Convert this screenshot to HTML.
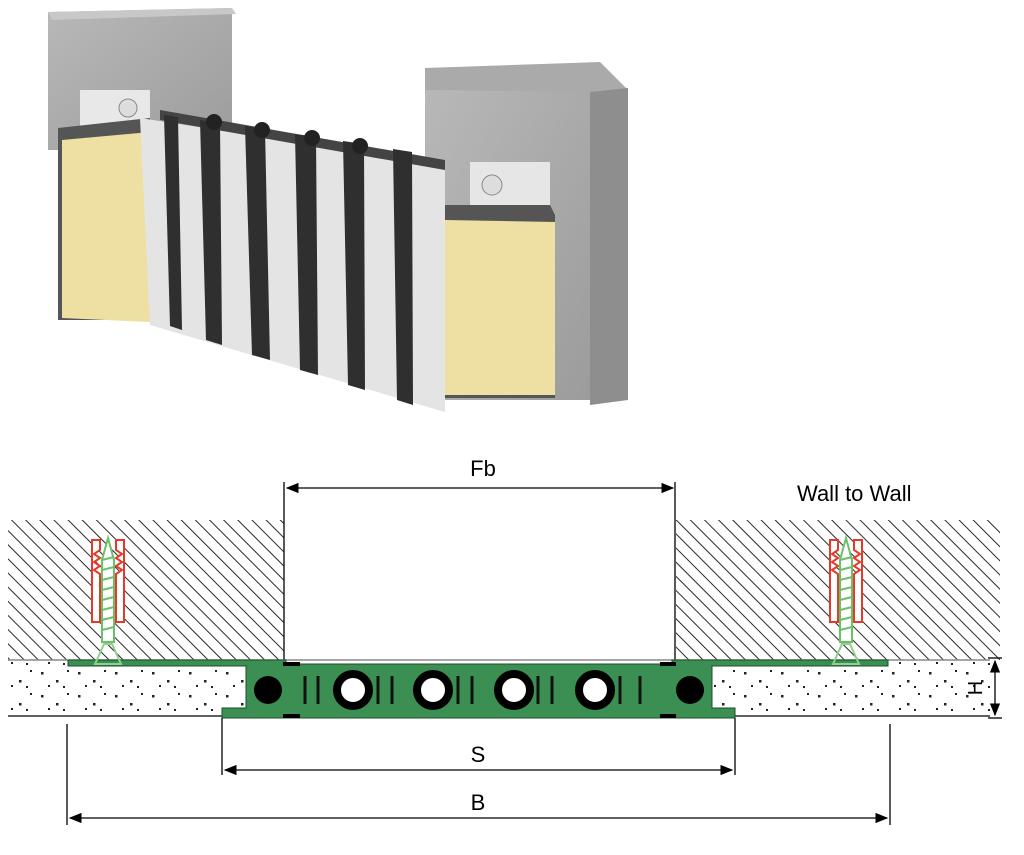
<!DOCTYPE html>
<html><head><meta charset="utf-8"><style>html,body{margin:0;padding:0;background:#fff}svg{display:block}</style></head><body>
<svg width="1024" height="855" viewBox="0 0 1024 855" xmlns="http://www.w3.org/2000/svg" font-family="Liberation Sans, sans-serif">
<defs>
<pattern id="hatch" width="10" height="10" patternUnits="userSpaceOnUse" patternTransform="rotate(-45)">
<line x1="0" y1="0" x2="0" y2="10" stroke="#111" stroke-width="1.8" stroke-dasharray="11 3"/>
</pattern>
<pattern id="dots" width="37" height="23" patternUnits="userSpaceOnUse">
<rect x="4" y="5" width="2.5" height="2.5" fill="#222"/><rect x="19" y="13" width="2.5" height="2.5" fill="#222"/><rect x="30" y="3" width="2" height="2" fill="#222"/><rect x="11" y="18" width="2" height="2" fill="#222"/><rect x="26" y="19" width="2" height="2" fill="#222"/>
</pattern>
<marker id="ar" markerWidth="10" markerHeight="8" refX="9" refY="4" orient="auto-start-reverse"><path d="M0,0 L10,4 L0,8 z" fill="#000"/></marker>
<linearGradient id="conc" x1="0" y1="0" x2="1" y2="1"><stop offset="0" stop-color="#b8b8b8"/><stop offset="1" stop-color="#9c9c9c"/></linearGradient>
</defs>

<!-- 3D image -->
<polygon points="48,12 232,8 232,150 48,150" fill="url(#conc)"/>
<polygon points="48,12 232,8 236,14 52,20" fill="#c8c8c8"/>
<rect x="80" y="90" width="70" height="45" fill="#e8e8e8"/>
<circle cx="128" cy="108" r="9" fill="#ddd" stroke="#888"/>
<polygon points="58,128 150,118 150,320 58,320" fill="#555"/>
<polygon points="62,140 150,132 150,322 62,318" fill="#eedfa3"/>
<polygon points="425,68 600,62 628,90 628,400 590,400 590,95 425,95" fill="#aaa"/>
<polygon points="425,90 590,92 590,400 425,400" fill="url(#conc)"/>
<polygon points="590,92 628,88 628,400 590,405" fill="#8e8e8e"/>
<rect x="470" y="162" width="80" height="45" fill="#e6e6e6"/>
<circle cx="492" cy="185" r="10" fill="#ddd" stroke="#888"/>
<polygon points="430,205 550,205 555,215 555,398 445,398 440,215" fill="#555"/>
<polygon points="445,220 555,222 555,395 440,395" fill="#eedfa3"/>
<polygon points="140,118 445,165 445,412 150,325" fill="#e4e4e4"/>
<polygon points="160,110 445,160 445,170 160,120" fill="#444"/>
<g fill="#2f2f2f">
<polygon points="164,115 178,117 182,330 170,326"/>
<polygon points="200,120 220,123 222,345 206,340"/>
<polygon points="245,126 265,129 270,360 252,355"/>
<polygon points="295,134 316,137 318,375 300,370"/>
<polygon points="343,141 364,144 365,390 348,385"/>
<polygon points="393,149 412,152 413,405 397,400"/>
</g>
<g fill="#222"><circle cx="214" cy="122" r="8"/><circle cx="262" cy="130" r="8"/><circle cx="312" cy="138" r="8"/><circle cx="360" cy="146" r="8"/></g>

<!-- Cross section -->
<text x="483" y="476" font-size="22" text-anchor="middle">Fb</text>
<line x1="287" y1="488" x2="673" y2="488" stroke="#000" stroke-width="1.3" marker-start="url(#ar)" marker-end="url(#ar)"/>
<line x1="284" y1="482" x2="284" y2="660" stroke="#000" stroke-width="1.3"/>
<line x1="675" y1="482" x2="675" y2="660" stroke="#000" stroke-width="1.3"/>
<text x="797" y="501" font-size="22">Wall to Wall</text>

<rect x="8" y="520" width="276" height="140" fill="url(#hatch)"/>
<rect x="676" y="520" width="324" height="140" fill="url(#hatch)"/>
<rect x="8" y="660" width="240" height="56" fill="url(#dots)"/>
<rect x="712" y="660" width="278" height="56" fill="url(#dots)"/>
<line x1="8" y1="660" x2="990" y2="660" stroke="#888" stroke-width="1.5"/>
<line x1="8" y1="716" x2="222" y2="716" stroke="#000" stroke-width="1.3"/>
<line x1="735" y1="716" x2="990" y2="716" stroke="#000" stroke-width="1.3"/>
<path d="M68,660 H286 V664 H672 V660 H888 V666 H712 V708 H735 V718 H222 V708 H246 V666 H68 Z" fill="#3c8f52" stroke="#1a4f2a" stroke-width="1"/>
<rect x="290" y="668" width="380" height="46" fill="#3c8f52"/>
<circle cx="268" cy="690" r="14" fill="#000"/>
<circle cx="690" cy="690" r="14" fill="#000"/>
<g fill="#fff" stroke="#000" stroke-width="8">
<circle cx="353" cy="690" r="16"/><circle cx="433" cy="690" r="16"/><circle cx="514" cy="690" r="16"/><circle cx="595" cy="690" r="16"/>
</g>
<g stroke="#111" stroke-width="3" fill="none">
<path d="M305,676 V704 M318,676 V704 M378,676 V704 M392,676 V704 M458,676 V704 M472,676 V704 M538,676 V704 M552,676 V704 M620,676 V704 M640,676 V704"/>
</g>
<path d="M283,664 L300,664 M283,716 L300,716 M660,664 L676,664 M660,716 L676,716" stroke="#000" stroke-width="4"/>
<g id="anc">
<path d="M92,540 h8 v10 l-6,4 6,4 -6,4 6,4 -6,4 6,4 v48 h-8 z M124,540 h-8 v10 l6,4 -6,4 6,4 -6,4 6,4 -6,4 v48 h8 z" fill="#fff" stroke="#e53a2a" stroke-width="2"/>
<path d="M108,538 l-6,22 v82 h12 v-82 z" fill="#fff" stroke="#6cc06a" stroke-width="2"/>
<path d="M102,560 l12,-3 M102,570 l12,-3 M102,580 l12,-3 M102,590 l12,-3 M102,600 l12,-3 M102,610 l12,-3 M102,620 l12,-3 M102,630 l12,-3" stroke="#6cc06a" stroke-width="2"/>
<path d="M95,664 L104,644 h8 L121,664 z" fill="none" stroke="#8fd08a" stroke-width="2"/>
</g>
<use href="#anc" transform="translate(738,0)"/>

<line x1="222" y1="718" x2="222" y2="775" stroke="#000" stroke-width="1.3"/>
<line x1="735" y1="718" x2="735" y2="775" stroke="#000" stroke-width="1.3"/>
<line x1="225" y1="770" x2="732" y2="770" stroke="#000" stroke-width="1.3" marker-start="url(#ar)" marker-end="url(#ar)"/>
<text x="478" y="762" font-size="22" text-anchor="middle">S</text>
<line x1="67" y1="724" x2="67" y2="825" stroke="#000" stroke-width="1.3"/>
<line x1="890" y1="724" x2="890" y2="825" stroke="#000" stroke-width="1.3"/>
<line x1="70" y1="818" x2="887" y2="818" stroke="#000" stroke-width="1.3" marker-start="url(#ar)" marker-end="url(#ar)"/>
<text x="478" y="810" font-size="22" text-anchor="middle">B</text>
<line x1="995" y1="661" x2="995" y2="715" stroke="#000" stroke-width="1.3" marker-start="url(#ar)" marker-end="url(#ar)"/>
<line x1="988" y1="658" x2="1002" y2="658" stroke="#000" stroke-width="1.3"/>
<line x1="988" y1="718" x2="1002" y2="718" stroke="#000" stroke-width="1.3"/>
<text x="0" y="0" font-size="20" text-anchor="middle" transform="translate(982,688) rotate(-90)">H</text>
</svg>
</body></html>
